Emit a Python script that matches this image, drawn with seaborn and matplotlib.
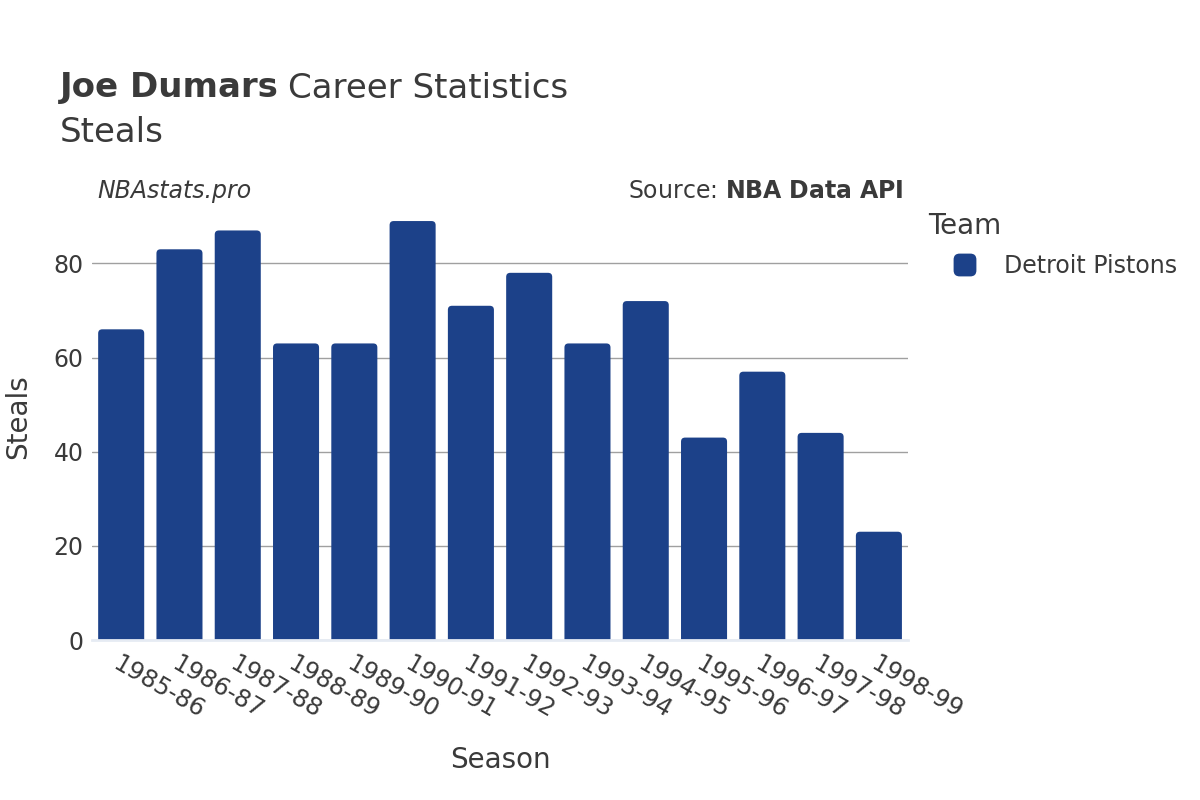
import matplotlib
matplotlib.use("Agg")
import matplotlib.pyplot as plt
import seaborn as sns
import pandas as pd
from matplotlib.patches import FancyBboxPatch

seasons = ["1985-86", "1986-87", "1987-88", "1988-89", "1989-90", "1990-91", "1991-92",
           "1992-93", "1993-94", "1994-95", "1995-96", "1996-97", "1997-98", "1998-99"]
steals = [66, 83, 87, 63, 63, 89, 71, 78, 63, 72, 43, 57, 44, 23]
teams = ["Detroit Pistons"] * len(seasons)
yticks = [0, 20, 40, 60, 80]

df = pd.DataFrame({"Season": seasons, "Steals": steals, "Team": teams})

sns.set_theme(style="white")
plt.rcParams["font.family"] = ["DejaVu Sans"]
txt = "#3a3a3a"
bar_color = "#1c4189"

fig = plt.figure(figsize=(12, 8), dpi=100)
ax_h_px = 0.559 * 800
ax = fig.add_axes([0.0767, 0.2, 0.68, 0.559])

sns.barplot(data=df, x="Season", y="Steals", hue="Team", palette=[bar_color],
            width=0.79, ax=ax, legend=False, saturation=1)

ymax = 95
ax.set_ylim(0, ymax)
ax.set_xlim(-0.5, len(seasons) - 0.5)

# rounded top corners
px_per_x = 816 / len(seasons)
px_per_y = ax_h_px / ymax
aspect = px_per_x / px_per_y
for p in list(ax.patches):
    x, y, w, h = p.get_x(), p.get_y(), p.get_width(), p.get_height()
    p.remove()
    fb = FancyBboxPatch((x, -3), w, h + 3, boxstyle="round,pad=0,rounding_size=0.07",
                        mutation_aspect=aspect,
                        facecolor=bar_color, edgecolor="none", zorder=3)
    ax.add_patch(fb)
    fb.set_clip_path(ax.patch)

ax.set_yticks(yticks)
ax.yaxis.grid(True, color="#a0a0a0", linewidth=1)
ax.set_axisbelow(True)
for s in ["top", "right", "left"]:
    ax.spines[s].set_visible(False)
ax.spines["bottom"].set_color("#e6ebf3")
ax.spines["bottom"].set_linewidth(2)
ax.spines["bottom"].set_zorder(4)

ax.tick_params(axis="y", labelsize=17, colors=txt, length=0, pad=6)
ax.tick_params(axis="x", labelsize=17.5, colors=txt, length=0, pad=8)
for lbl in ax.get_xticklabels():
    lbl.set_rotation(-30)
    lbl.set_ha("left")
    lbl.set_va("top")
    lbl.set_rotation_mode("anchor")
ax.set_xlabel("Season", fontsize=20, color=txt)
ax.set_ylabel("Steals", fontsize=20, color=txt)
ax.xaxis.set_label_coords((500 - 92) / 816, (640 - 760) / ax_h_px)
ax.yaxis.set_label_coords((18 - 92) / 816, 0.5)
ax.xaxis.label.set_va("center")
ax.yaxis.label.set_va("center")

t1 = fig.text(60 / 1200, 1 - 88 / 800, "Joe Dumars", fontsize=24.5, fontweight="bold",
              color=txt, va="center", ha="left")
fig.canvas.draw()
bb = t1.get_window_extent()
fig.text((bb.x1 + 9) / 1200, 1 - 88 / 800, "Career Statistics", fontsize=24.5,
         color=txt, va="center", ha="left")
fig.text(60 / 1200, 1 - 132 / 800, "Steals", fontsize=24.5, color=txt,
         va="center", ha="left")
fig.text(97 / 1200, 1 - 191 / 800, "NBAstats.pro", fontsize=17, style="italic",
         color=txt, va="center", ha="left")
fig.text(904 / 1200, 1 - 191 / 800, r"Source: $\bf{NBA\ Data\ API}$", fontsize=17,
         color=txt, va="center", ha="right")

fig.text(928 / 1200, 1 - 226 / 800, "Team", fontsize=20, color=txt,
         va="center", ha="left")
leg_ax = fig.add_axes([950 / 1200, 1 - 280 / 800, 30 / 1200, 30 / 800])
leg_ax.set_axis_off()
leg_ax.set_xlim(0, 1)
leg_ax.set_ylim(0, 1)
leg_ax.add_patch(FancyBboxPatch((0.12, 0.12), 0.76, 0.76,
                                boxstyle="round,pad=0,rounding_size=0.2",
                                facecolor=bar_color, edgecolor="none"))
fig.text(1004 / 1200, 1 - 266 / 800, "Detroit Pistons", fontsize=17, color=txt,
         va="center", ha="left")

fig.savefig("out.png", dpi=100, facecolor="white")
